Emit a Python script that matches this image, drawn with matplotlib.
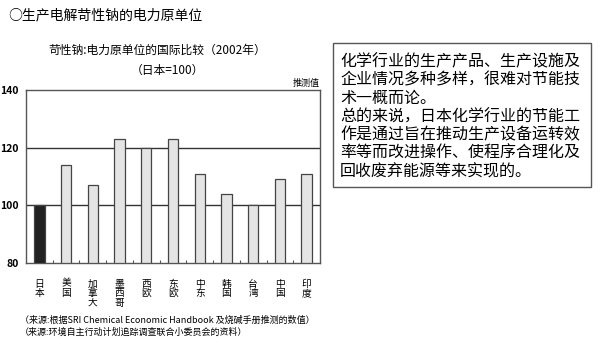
import matplotlib
matplotlib.use("Agg")
import matplotlib.pyplot as plt
from matplotlib.patches import Rectangle

plt.rcParams['font.family'] = ['Noto Sans CJK SC', 'DejaVu Sans']

# data (Japan = 100)
countries = ["日本", "美国", "加拿大", "墨西哥", "西欧", "东欧", "中东", "韩国", "台湾", "中国", "印度"]
values = [100, 114, 107, 123, 120, 123, 111, 104, 100, 109, 111]
yticks = [80, 100, 120, 140]

page_title = "○生产电解苛性钠的电力原单位"
chart_title = "苛性钠:电力原单位的国际比较（2002年）"
chart_sub = "（日本=100）"
note_estimate = "推测值"
sources = ["（来源:根据SRI Chemical Economic Handbook 及烧碱手册推测的数值）",
           "（来源:环境自主行动计划追踪调查联合小委员会的资料）"]
box_lines = ["化学行业的生产产品、生产设施及",
             "企业情况多种多样，很难对节能技",
             "术一概而论。",
             "总的来说，日本化学行业的节能工",
             "作是通过旨在推动生产设备运转效",
             "率等而改进操作、使程序合理化及",
             "回收废弃能源等来实现的。"]

W, H = 600, 353
fig = plt.figure(figsize=(W / 100, H / 100), dpi=100)
fig.patch.set_facecolor("white")

# plot area: x 26..320 px, y 90..263 px
ax = fig.add_axes([26 / W, 1 - 263 / H, 294 / W, 173 / H])
xs = list(range(len(countries)))
colors = ["#222222"] + ["#e4e4e4"] * (len(countries) - 1)
ax.bar(xs, [v - 80 for v in values], bottom=80, width=0.39, color=colors,
       edgecolor="#444444", linewidth=0.9, zorder=3)
ax.set_xlim(-0.5, len(countries) - 0.5)
ax.set_ylim(80, 140)
for y in (100, 120):
    ax.axhline(y, color="#333333", linewidth=1.0, zorder=1)
for s in ax.spines.values():
    s.set_color("#555555")
    s.set_linewidth(1.0)

ax.set_yticks(yticks)
ax.set_yticklabels([str(t) for t in yticks], fontsize=7.5, fontweight="bold")
ax.tick_params(axis="y", length=0, pad=5)
# small upward ticks between categories
ax.set_xticks([i + 0.5 for i in xs[:-1]])
ax.set_xticklabels([])
ax.tick_params(axis="x", direction="in", length=2.5, color="#555555")

# vertical (stacked) category labels
for i, name in enumerate(countries):
    ax.text(i, -0.09, "\n".join(name), transform=ax.get_xaxis_transform(),
            ha="center", va="top", fontsize=7, linespacing=0.95)

ax.text(1.0, 1.01, note_estimate, transform=ax.transAxes, ha="right", va="bottom",
        fontsize=6.5)

fig.text(8 / W, 1 - 15 / H, page_title, ha="left", va="center", fontsize=10)
fig.text(157 / W, 1 - 50 / H, chart_title, ha="center", va="center", fontsize=8.5)
fig.text(167 / W, 1 - 70 / H, chart_sub, ha="center", va="center", fontsize=8.5)
fig.text(20 / W, 1 - 320 / H, sources[0], ha="left", va="center", fontsize=6.5)
fig.text(20 / W, 1 - 332 / H, sources[1], ha="left", va="center", fontsize=6.5)

# explanatory text box
fig.patches.append(Rectangle((333 / W, 1 - 187 / H), 258 / W, 144 / H,
                             transform=fig.transFigure, fill=False,
                             edgecolor="#555555", linewidth=1.0))
line_y = [62, 80, 98, 117, 135, 153, 172]
for ly, line in zip(line_y, box_lines):
    fig.text(340 / W, 1 - ly / H, line, ha="left", va="center", fontsize=11.5)

fig.savefig("out.png", dpi=100, facecolor="white")
